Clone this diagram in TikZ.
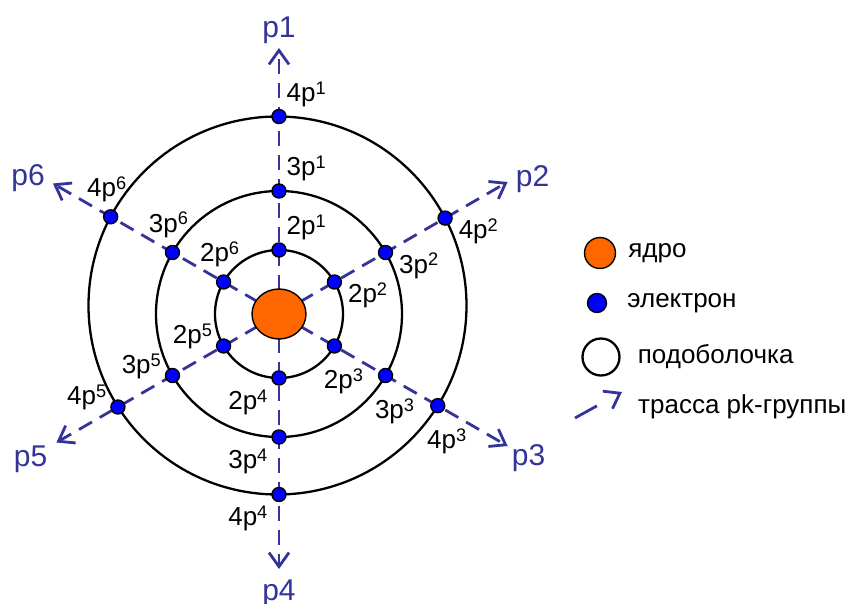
\documentclass[tikz,border=0pt]{standalone}
\usepackage{fontspec}
\setmainfont{Liberation Sans}
\usetikzlibrary{arrows.meta,positioning,shapes.geometric}
\definecolor{pkblue}{RGB}{51,51,153}
\definecolor{nucorange}{RGB}{255,102,0}
\newcommand{\pup}[1]{\raisebox{0.28em}{\scalebox{0.7}{#1}}}

\tikzset{
  shell/.style={draw,line width=2.3pt},
  track/.style={draw=pkblue,line width=2.8pt,dash pattern=on 15pt off 9pt,
    -{Straight Barb[length=14pt,width=20pt,line width=2.8pt]}},
  electron/.style={draw,circle,fill=blue,line width=1.4pt,minimum size=14pt,inner sep=0pt},
  nucleus/.style={draw,ellipse,fill=nucorange,line width=1.4pt,minimum width=54pt,minimum height=50pt,inner sep=0pt},
  lbl/.style={inner sep=0pt,font=\fontsize{26}{26}\selectfont},
  trk/.style={inner sep=0pt,text=pkblue,font=\fontsize{30}{30}\selectfont},
  leg/.style={inner sep=0pt,font=\fontsize{26}{26}\selectfont}
}

\begin{document}
\begin{tikzpicture}[x=1pt,y=1pt]
  \useasboundingbox (-279,-289) rectangle (573,314);

  % subshells
  \draw[shell] (0,0) circle[radius=64];
  \draw[shell] (0,0) circle[radius=123];
  \draw[shell] (-1.5,8.5) circle[radius=189];

  % pk-group tracks
  \coordinate (c) at (0,0);
  \coordinate (t1) at (90:266);
  \coordinate (t2) at (30:264);
  \coordinate (t3) at (-30:264);
  \coordinate (t4) at (-90:255);
  \coordinate (t5) at (210:257);
  \coordinate (t6) at (150:261);
  \draw[track] (c) -- (t1);
  \draw[track] (c) -- (t2);
  \draw[track] (c) -- (t3);
  \draw[track] (c) -- (t4);
  \draw[track] (c) -- (t5);
  \draw[track] (c) -- (t6);
  \node[trk,above=4pt of t1] {p1};
  \node[trk,right=8pt of t2,yshift=3pt] {p2};
  \node[trk,below right=-2pt and 4pt of t3] {p3};
  \node[trk,below=11pt of t4] {p4};
  \node[trk,below left=3pt and 9pt of t5] {p5};
  \node[trk,left=8pt of t6,yshift=5pt] {p6};

  % nucleus
  \node[nucleus] (nuc) at (c) {};

  % electrons
  \node[electron] (e2p1) at (90:64) {};
  \node[electron] (e3p1) at (90:123) {};
  \node[electron] (e4p1) at (90:197.5) {};
  \node[electron] (e2p2) at (30:64) {};
  \node[electron] (e3p2) at (30:123) {};
  \node[electron] (e4p2) at (30:191.8) {};
  \node[electron] (e2p3) at (-30:64) {};
  \node[electron] (e3p3) at (-30:123) {};
  \node[electron] (e4p3) at (-30:183.3) {};
  \node[electron] (e2p4) at (-90:64) {};
  \node[electron] (e3p4) at (-90:123) {};
  \node[electron] (e4p4) at (-90:180.5) {};
  \node[electron] (e2p5) at (210:64) {};
  \node[electron] (e3p5) at (210:123) {};
  \node[electron] (e4p5) at (210:186) {};
  \node[electron] (e2p6) at (150:64) {};
  \node[electron] (e3p6) at (150:123) {};
  \node[electron] (e4p6) at (150:194.4) {};

  % electron labels
  \node[lbl,above right=4pt and 2pt of e2p1] {2p\pup{1}};
  \node[lbl,above right=4pt and 2pt of e3p1] {3p\pup{1}};
  \node[lbl,above right=4pt and 2pt of e4p1] {4p\pup{1}};
  \node[lbl,below right=-5pt and 8pt of e2p2] {2p\pup{2}};
  \node[lbl,below right=-5pt and 8pt of e3p2] {3p\pup{2}};
  \node[lbl,below right=-5pt and 8pt of e4p2] {4p\pup{2}};
  \node[lbl,below=15pt of e2p3,xshift=9pt] {2p\pup{3}};
  \node[lbl,below=15pt of e3p3,xshift=9pt] {3p\pup{3}};
  \node[lbl,below=15pt of e4p3,xshift=9pt] {4p\pup{3}};
  \node[lbl,below left=6pt and 6pt of e2p4] {2p\pup{4}};
  \node[lbl,below left=6pt and 6pt of e3p4] {3p\pup{4}};
  \node[lbl,below left=6pt and 6pt of e4p4] {4p\pup{4}};
  \node[lbl,above left=-9pt and 6pt of e2p5] {2p\pup{5}};
  \node[lbl,above left=-9pt and 6pt of e3p5] {3p\pup{5}};
  \node[lbl,above left=-9pt and 6pt of e4p5] {4p\pup{5}};
  \node[lbl,above=7pt of e2p6,xshift=-4pt] {2p\pup{6}};
  \node[lbl,above=7pt of e3p6,xshift=-4pt] {3p\pup{6}};
  \node[lbl,above=7pt of e4p6,xshift=-4pt] {4p\pup{6}};

  % legend
  \node[nucleus,minimum width=31pt,minimum height=31pt] (lnuc) at (321,61) {};
  \node[leg,right=12pt of lnuc] (lnuctxt) {ядро};
  \node[electron,minimum size=19pt] (lel) at (318,11) {};
  \node[leg,right=20pt of lel] (leltxt) {электрон};
  \node[shell,circle,minimum size=37pt] (lsh) at (322,-43) {};
  \node[leg,right=17pt of lsh] (lshtxt) {подоболочка};
  \coordinate (la) at (296,-104);
  \coordinate (lb) at (343,-78);
  \draw[track,dash pattern=on 25pt off 40pt] (la) -- (lb);
  \node[leg,anchor=west] (ltrtxt) at (359,-93) {трасса pk-группы};
\end{tikzpicture}
\end{document}
